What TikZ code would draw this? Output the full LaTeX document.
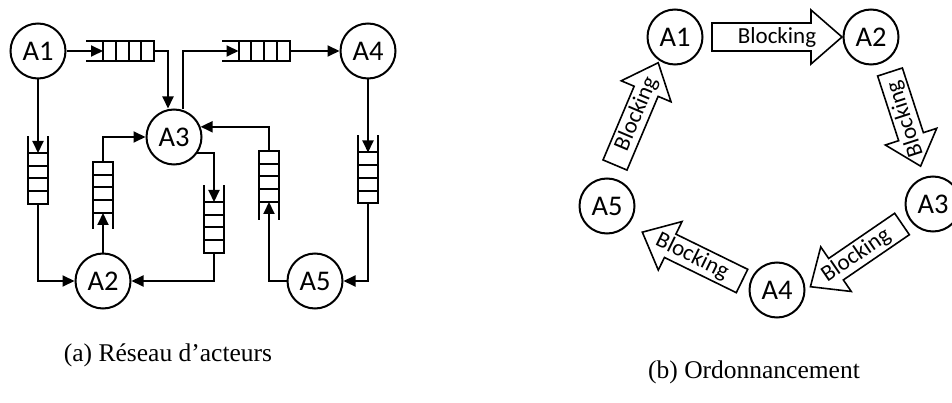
\documentclass[tikz,border=0pt]{standalone}
\usepackage{fontspec}
\setmainfont{Liberation Serif}
\newfontfamily\labfont{Carlito}
\usetikzlibrary{arrows.meta,calc}
\newcommand\blk[6]{%
\begin{scope}[shift={#2}, rotate=#3]
\draw[blockline] (0,-#5) -- ({#4-31},-#5) -- ({#4-31},-27) -- (#4,0) -- ({#4-31},27) -- ({#4-31},#5) -- (0,#5) -- cycle;
\node[blocktext, rotate=#6] (#1) at ({#4/2},0) {Blocking};
\end{scope}}
\begin{document}
\begin{tikzpicture}[x=1pt,y=-1pt, line width=2pt,
 actor/.style={circle, draw, line width=2pt, minimum size=55pt, inner sep=0pt, font=\labfont\fontsize{28.5}{32}\selectfont},
 conn/.style={-{Triangle[length=12pt,width=11pt]}, line width=2pt},
 hq/.style={draw, line width=2pt, outer sep=0pt, minimum width=51pt, minimum height=20pt, inner sep=0pt,
   path picture={\foreach \i in {1,2,3}{\draw[line width=2pt] ([xshift=\i*12.75pt]path picture bounding box.north west) -- ([xshift=\i*12.75pt]path picture bounding box.south west);}}},
 vq/.style={draw, line width=2pt, outer sep=0pt, minimum width=20pt, minimum height=51pt, inner sep=0pt,
   path picture={\foreach \i in {1,2,3}{\draw[line width=2pt] ([yshift=-\i*12.75pt]path picture bounding box.north west) -- ([yshift=-\i*12.75pt]path picture bounding box.north east);}}},
 blockline/.style={draw, line width=1.6pt, line join=miter},
 blocktext/.style={font=\labfont\fontsize{23}{27}\selectfont, inner sep=0pt},
 caption/.style={font=\fontsize{25.5}{30}\selectfont, inner sep=0pt}]
\useasboundingbox (0,0) rectangle (952,403);

% ---------- (a) network ----------
\node[actor] (A1) at (38,51) {A1};
\node[actor] (A2) at (103,281) {A2};
\node[actor] (A3) at (174,137) {A3};
\node[actor] (A4) at (368,51) {A4};
\node[actor] (A5) at (315,281) {A5};

\node[hq] (q1) at (128.5,51) {};
\node[hq] (q2) at (264,51) {};
\node[vq] (q3) at (38,178.5) {};
\node[vq] (q4) at (103,187.5) {};
\node[vq] (q5) at (214,227.5) {};
\node[vq] (q6) at (269,176.5) {};
\node[vq] (q7) at (368,178) {};

% open ends of the queues
\draw (q1.north west) -- ++(-17,0) (q1.south west) -- ++(-17,0);
\draw (q2.north west) -- ++(-17,0) (q2.south west) -- ++(-17,0);
\draw (q3.north west) -- ++(0,-17) (q3.north east) -- ++(0,-17);
\draw (q5.north west) -- ++(0,-17) (q5.north east) -- ++(0,-17);
\draw (q7.north west) -- ++(0,-17) (q7.north east) -- ++(0,-17);
\draw (q4.south west) -- ++(0,16) (q4.south east) -- ++(0,16);
\draw (q6.south west) -- ++(0,18) (q6.south east) -- ++(0,18);

% connectors
\draw[conn] (A1) -- (q1.west);
\draw[conn] (q1.east) -| ([xshift=-6pt]A3.north);
\draw[conn] ([xshift=9pt,yshift=-1pt]A3.north) |- (q2.west);
\draw[conn] (q2.east) -- (A4);
\draw[conn] (A4) -- (q7.north);
\draw[conn] (q7.south) |- (A5);
\draw[conn] (A5) -| (q6.south);
\draw[conn] (q6.north) |- (A3.21);
\draw[conn] (A3.-35) -| (q5.north);
\draw[conn] (q5.south) |- (A2);
\draw[conn] (A2) -- (q4.south);
\draw[conn] (q4.north) |- (A3);
\draw[conn] (A1) -- (q3.north);
\draw[conn] (q3.south) |- (A2);

% ---------- (b) schedule ----------
\node[actor] (B1) at (675,37) {A1};
\node[actor] (B2) at (871,37) {A2};
\node[actor] (B3) at (933,204) {A3};
\node[actor] (B4) at (777,290) {A4};
\node[actor] (B5) at (607,206) {A5};

\coordinate (t12) at (712,37);
\coordinate (t23) at (890,72);
\coordinate (t34) at (902,224);
\coordinate (t45) at (742,281);
\coordinate (t51) at (615,165);
\blk{b12}{(t12)}{0}{130}{14}{0}
\blk{b23}{(t23)}{-72}{99}{13}{108}
\blk{b34}{(t34)}{-145.6}{111}{13}{34.4}
\blk{b45}{(t45)}{153.9}{111}{13}{-26.1}
\blk{b51}{(t51)}{67.1}{111}{13}{67.1}

% captions
\node[caption] (capa) at (168,355) {(a) Réseau d’acteurs};
\node[caption] (capb) at (754,372) {(b) Ordonnancement};
\end{tikzpicture}
\end{document}
